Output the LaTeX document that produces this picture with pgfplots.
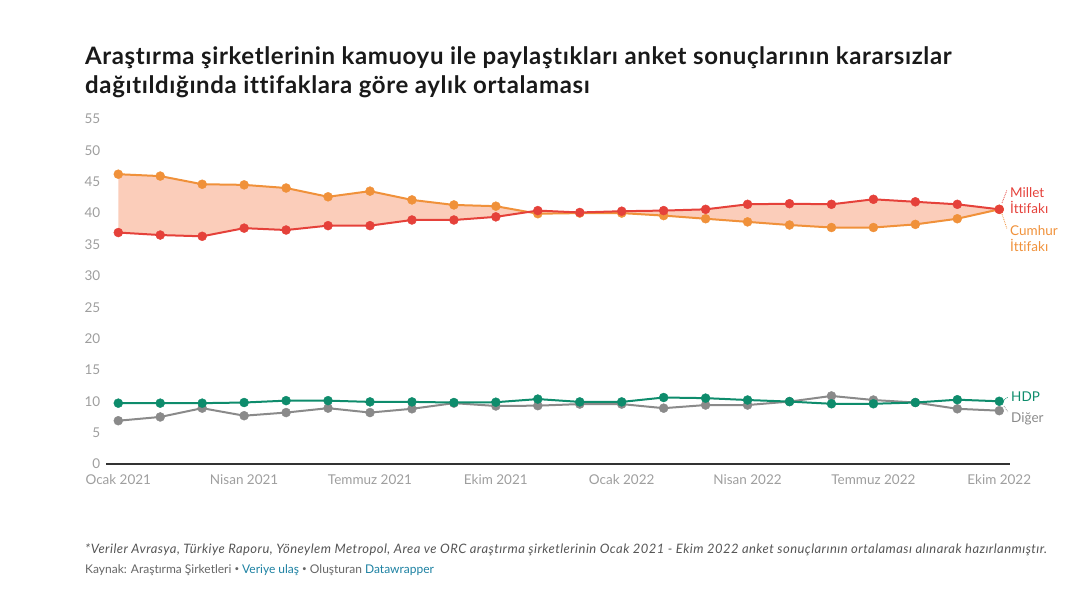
\documentclass[border=0pt]{standalone}
\usepackage{pgfplots}
\pgfplotsset{compat=1.18}
\usepackage{pgfplotstable}
\usepgfplotslibrary{fillbetween}
\usepackage{fontspec}
\setmainfont{Lato}[Ligatures=NoCommon]
\newfontfamily\titlefont{Lato}[Ligatures=NoCommon, LetterSpace=2.6, BoldFont={Lato Bold}]
\newfontfamily\notefont{Lato}[Ligatures=NoCommon, LetterSpace=3.4]
\definecolor{cumhur}{HTML}{F0913A}
\definecolor{millet}{HTML}{E5413A}
\definecolor{hdp}{HTML}{0E8C6C}
\definecolor{diger}{HTML}{8A8A8A}
\definecolor{fillc}{HTML}{FBCDBA}
\definecolor{tickc}{HTML}{9E9E9E}
\definecolor{linkc}{HTML}{1D81A2}
\definecolor{notec}{HTML}{555555}
\newcommand{\sep}{\raisebox{1.6pt}{\fontsize{8}{8}\selectfont •}}

\pgfplotstableread{
i cumhur millet hdp diger
0 46.2 36.9 9.7 6.9
1 45.9 36.5 9.7 7.5
2 44.6 36.3 9.7 8.9
3 44.5 37.6 9.8 7.7
4 44.0 37.3 10.1 8.2
5 42.6 38.0 10.1 8.9
6 43.5 38.0 9.9 8.2
7 42.1 38.9 9.9 8.8
8 41.3 38.9 9.8 9.7
9 41.1 39.4 9.85 9.25
10 39.9 40.4 10.35 9.3
11 40.0 40.1 9.9 9.55
12 40.0 40.3 9.9 9.55
13 39.6 40.4 10.6 8.9
14 39.1 40.6 10.5 9.4
15 38.6 41.4 10.2 9.4
16 38.1 41.5 9.95 9.95
17 37.7 41.4 9.6 10.85
18 37.7 42.2 9.6 10.2
19 38.2 41.8 9.8 9.8
20 39.1 41.4 10.25 8.8
21 40.6 40.6 10.0 8.5
}\data

\begin{document}
\begin{tikzpicture}
% title
\node[anchor=base west, inner sep=0, text=black!90, font=\titlefont\fontsize{24}{28}\selectfont\bfseries] at (85pt,-64.3pt) {Araştırma şirketlerinin kamuoyu ile paylaştıkları anket sonuçlarının kararsızlar};
\node[anchor=base west, inner sep=0, text=black!90, font=\titlefont\fontsize{24}{28}\selectfont\bfseries] at (85pt,-93.5pt) {dağıtıldığında ittifaklara göre aylık ortalaması};

\begin{axis}[
  at={(106pt,-464pt)}, anchor=south west,
  scale only axis, width=904pt, height=345pt,
  xmin=-0.293, xmax=21.256, ymin=0, ymax=55,
  clip=false,
  separate axis lines,
  axis x line*=bottom, axis y line*=left,
  y axis line style={draw=none},
  x axis line style={draw=black!80, line width=1.1pt},
  major tick length=0pt,
  xtick={0,3,...,21},
  xticklabels={Ocak 2021, Nisan 2021, Temmuz 2021, Ekim 2021, Ocak 2022, Nisan 2022, Temmuz 2022, Ekim 2022},
  ytick={0,5,...,55},
  /pgf/number format/assume math mode=true,
  tick label style={font=\fontsize{13.5}{16}\selectfont, text=tickc},
  yticklabel style={anchor=east, inner sep=0pt, xshift=-5.5pt},
  xticklabel style={anchor=north, inner sep=0pt, yshift=-10.5pt},
]
\addplot[draw=none, name path=C, forget plot] table[x=i, y=cumhur] {\data};
\addplot[draw=none, name path=M, forget plot] table[x=i, y=millet] {\data};
\addplot[fillc, draw=none] fill between[of=C and M];

\addplot[cumhur, line width=2pt, mark=*, mark size=4.5pt, mark options={solid, fill=cumhur, draw=cumhur, line width=0.4pt}] table[x=i, y=cumhur] {\data};
\addplot[millet, line width=2pt, mark=*, mark size=4.5pt, mark options={solid, fill=millet, draw=millet, line width=0.4pt}] table[x=i, y=millet] {\data};
\addplot[diger, line width=2pt, mark=*, mark size=4.5pt, mark options={solid, fill=diger, draw=diger, line width=0.4pt}] table[x=i, y=diger] {\data};
\addplot[hdp, line width=2pt, mark=*, mark size=4.5pt, mark options={solid, fill=hdp, draw=hdp, line width=0.4pt}] table[x=i, y=hdp] {\data};
\end{axis}

% direct labels
\draw[millet, densely dotted, line width=0.8pt] (1002pt,-203pt) -- (1007pt,-190pt);
\draw[cumhur, densely dotted, line width=0.8pt] (1002pt,-214pt) -- (1007pt,-229pt);
\draw[hdp, densely dotted, line width=0.8pt] (1004pt,-400pt) -- (1008pt,-397pt);
\draw[diger, densely dotted, line width=0.8pt] (1004pt,-406pt) -- (1008pt,-412pt);
\begin{scope}[every node/.style={anchor=base west, inner sep=0, font=\fontsize{13.5}{16}\selectfont}]
\node[text=millet] at (1010pt,-198pt) {Millet};
\node[text=millet] at (1010pt,-214pt) {İttifakı};
\node[text=cumhur] at (1010pt,-236pt) {Cumhur};
\node[text=cumhur] at (1010pt,-252pt) {İttifakı};
\node[text=hdp] at (1011pt,-402pt) {HDP};
\node[text=diger] at (1011pt,-422pt) {Diğer};
\end{scope}

% footer
\node[anchor=base west, inner sep=0, text=notec, font=\notefont\fontsize{13}{15}\selectfont\itshape] at (85pt,-553pt) {*Veriler Avrasya, Türkiye Raporu, Yöneylem Metropol, Area ve ORC araştırma şirketlerinin Ocak 2021 - Ekim 2022 anket sonuçlarının ortalaması alınarak hazırlanmıştır.};
\node[anchor=base west, inner sep=0, text=black!60, font=\fontsize{12}{14}\selectfont] at (85pt,-573pt) {Kaynak: Araştırma Şirketleri \sep{} \textcolor{linkc}{Veriye ulaş} \sep{} Oluşturan \textcolor{linkc}{Datawrapper}};
\pgfresetboundingbox
\useasboundingbox (0,0) rectangle (1068pt,-601pt);
\end{tikzpicture}
\end{document}
